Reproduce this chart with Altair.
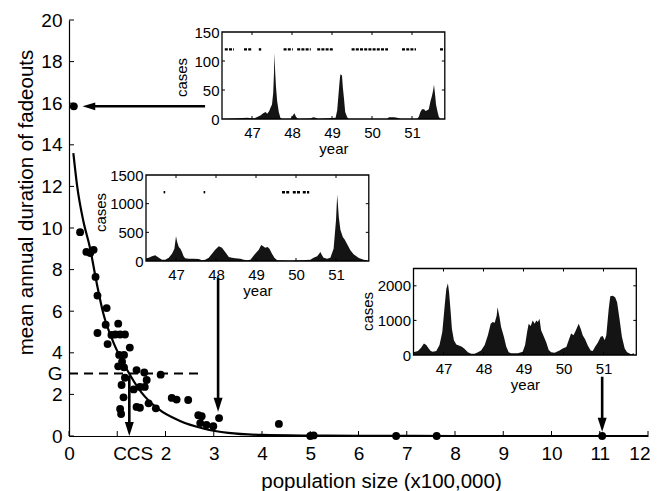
import altair as alt
import pandas as pd

# ---------------- data ----------------
# main scatter: population size (x100,000) vs mean annual duration of fadeouts
pop_size = [0.10, 0.23, 0.36, 0.44, 0.51, 0.55, 0.59, 0.78, 0.59, 0.76,
            0.80, 0.88, 1.02, 0.96, 1.06, 1.16, 1.26, 1.04, 1.14, 1.10,
            1.02, 1.14, 1.16, 1.40, 1.56, 1.90, 1.61, 1.47, 1.57, 1.09,
            1.34, 1.13, 1.65, 1.40, 1.47, 1.06, 1.08, 1.80, 2.13, 2.23,
            2.47, 2.68, 2.75, 2.72, 2.85, 2.99, 3.11, 4.35, 5.00, 5.07,
            6.78, 7.62, 11.05]
fade_dur = [15.85, 9.80, 8.85, 8.80, 8.95, 7.65, 6.75, 6.15, 4.95, 5.35,
            4.42, 4.86, 5.40, 4.88, 4.88, 4.88, 4.25, 3.90, 3.90, 3.57,
            3.35, 3.30, 2.80, 3.17, 3.05, 2.95, 2.69, 2.36, 2.36, 2.45,
            2.24, 1.86, 1.57, 1.40, 1.36, 1.30, 1.06, 1.33, 1.83, 1.75,
            1.73, 1.00, 0.95, 0.62, 0.53, 0.47, 0.86, 0.58, 0.00, 0.03,
            0.00, 0.00, 0.00]

# fitted curve
curve_pop = [0.09, 0.17, 0.30, 0.43, 0.57, 0.71, 0.92, 1.20, 1.50, 1.85,
             2.30, 2.80, 3.30, 4.00, 5.00, 6.00, 8.00, 12.0]
curve_dur = [13.6, 12.0, 10.3, 9.1, 7.4, 5.9, 4.5, 3.2, 2.1, 1.3,
             0.72, 0.35, 0.15, 0.05, 0.02, 0.01, 0.0, 0.0]

G_level = 3.0
G_line_pop = [0.0, 2.78]
CCS_pos = 1.32   # where the "CCS" label sits on the x axis

# arrows: shaft tail -> head base, and tips
shaft_x = [2.82, 3.09, 11.05, 1.25]
shaft_x2 = [0.52, 3.09, 11.05, 1.25]
shaft_y = [15.85, 7.6, 2.85, 2.9]
shaft_y2 = [15.85, 1.77, 0.80, 0.60]
tip_down_x = [3.09, 11.05, 1.25]
tip_down_y = [1.17, 0.20, 0.00]
tip_left_x = [0.28]
tip_left_y = [15.85]

x_tick_vals = list(range(0, 13))
y_tick_vals = list(range(0, 21, 2))
x_label_vals = [0, CCS_pos] + list(range(2, 13))
y_label_vals = [0, 2, 3] + list(range(4, 21, 2))

# inset 1 (top)
i1_year = [46.25, 46.55, 46.88, 47.05, 47.21, 47.28, 47.34, 47.38, 47.43, 47.46,
           47.50, 47.53, 47.55, 47.56, 47.58, 47.60, 47.63, 47.67, 47.71, 47.75,
           47.96, 48.02, 48.06, 48.10, 48.15, 48.46, 48.53, 48.59, 48.65, 49.09,
           49.13, 49.16, 49.19, 49.21, 49.25, 49.27, 49.30, 49.33, 49.38, 49.42,
           50.38, 50.42, 50.55, 50.63, 50.71, 51.13, 51.17, 51.21, 51.25, 51.30,
           51.34, 51.38, 51.42, 51.46, 51.50, 51.53, 51.55, 51.58, 51.60, 51.64,
           51.67, 51.71, 51.78]
i1_cases = [0, 1, 2, 1, 6, 10, 12, 9, 14, 19,
            25, 45, 80, 114, 80, 55, 30, 12, 2, 0,
            0, 6, 10, 4, 0, 1, 3, 2, 0, 2,
            15, 40, 65, 77, 75, 55, 35, 12, 3, 0,
            0, 3, 3, 2, 0, 0, 4, 12, 17, 17,
            14, 15, 17, 30, 40, 50, 59, 40, 25, 12,
            4, 0, 0]
i1_fade_start = [46.32, 46.80, 47.17, 47.79, 48.13, 48.63, 49.49, 50.75, 51.70]
i1_fade_end = [46.55, 46.98, 47.23, 48.02, 48.47, 49.02, 50.40, 51.10, 51.82]
i1_fade_level = 120

# inset 2 (middle)
i2_year = [46.25, 46.32, 46.40, 46.48, 46.57, 46.65, 46.73, 46.82, 46.90, 46.96,
           47.00, 47.03, 47.07, 47.11, 47.15, 47.19, 47.23, 47.32, 47.44, 47.57,
           47.65, 47.73, 47.82, 47.90, 47.98, 48.07, 48.15, 48.23, 48.32, 48.40,
           48.48, 48.61, 48.69, 48.78, 48.86, 48.90, 48.98, 49.07, 49.13, 49.18,
           49.23, 49.29, 49.34, 49.40, 49.46, 49.53, 49.86, 50.11, 50.36, 50.44,
           50.53, 50.61, 50.65, 50.69, 50.78, 50.86, 50.94, 51.00, 51.03, 51.07,
           51.11, 51.17, 51.22, 51.28, 51.36, 51.44, 51.57, 51.69, 51.78]
i2_cases = [50, 58, 81, 99, 58, 23, 23, 58, 128, 215,
            430, 331, 244, 215, 157, 81, 46, 40, 40, 35,
            12, 23, 58, 128, 198, 256, 232, 157, 70, 58,
            46, 40, 23, 12, 23, 58, 128, 198, 279, 256,
            232, 244, 209, 128, 58, 12, 6, 12, 23, 58,
            81, 157, 99, 58, 40, 58, 215, 709, 1162, 767,
            546, 418, 372, 290, 186, 116, 52, 23, 12]
i2_fade_start = [46.69, 47.69, 49.65, 49.92, 50.17]
i2_fade_end = [46.73, 47.73, 49.86, 50.11, 50.33]
i2_fade_level = 1200

# inset 3 (right)
i3_year = [46.25, 46.36, 46.44, 46.51, 46.57, 46.63, 46.68, 46.73, 46.82, 46.90,
           46.97, 47.03, 47.07, 47.11, 47.14, 47.18, 47.21, 47.26, 47.32, 47.40,
           47.46, 47.53, 47.61, 47.69, 47.78, 47.86, 47.94, 48.03, 48.11, 48.18,
           48.23, 48.28, 48.33, 48.35, 48.40, 48.44, 48.51, 48.57, 48.63, 48.69,
           48.86, 48.98, 49.04, 49.09, 49.13, 49.18, 49.23, 49.28, 49.32, 49.36,
           49.40, 49.44, 49.51, 49.57, 49.63, 49.69, 49.78, 49.90, 49.98, 50.07,
           50.13, 50.19, 50.25, 50.31, 50.38, 50.43, 50.48, 50.54, 50.61, 50.68,
           50.73, 50.79, 50.86, 50.93, 50.98, 51.03, 51.07, 51.13, 51.17, 51.23,
           51.29, 51.34, 51.40, 51.46, 51.53, 51.59, 51.69, 51.76]
i3_cases = [76, 114, 209, 333, 286, 190, 114, 95, 114, 286,
            666, 1428, 1904, 2075, 1809, 1238, 762, 428, 305, 267,
            238, 171, 76, 38, 38, 76, 133, 286, 571, 904,
            952, 933, 1142, 1380, 1095, 809, 524, 238, 76, 48,
            48, 95, 286, 666, 904, 838, 1000, 904, 1000, 952,
            1047, 714, 524, 362, 143, 76, 67, 133, 190, 228,
            428, 619, 571, 714, 904, 762, 571, 457, 267, 133,
            114, 238, 362, 524, 552, 428, 571, 1333, 1695, 1714,
            1666, 1523, 1047, 524, 190, 76, 19, 48]
i3_fade_start = []
i3_fade_end = []
i3_fade_level = 0

year_ticks = [47, 48, 49, 50, 51]

# ---------------- layout / style ----------------
W, H = 579, 416
FONT = "Liberation Sans"
YEAR_DOMAIN = [46.25, 51.82]


def XS():
    return alt.Scale(domain=[0, 12], nice=False, zero=False)


def YS():
    return alt.Scale(domain=[0, 20], nice=False, zero=False)


x_axis = alt.Axis(orient="bottom", values=x_label_vals,
                  labelExpr="datum.value == %s ? 'CCS' : '' + datum.value" % CCS_pos,
                  labelAlign={"condition": {"test": "datum.value == 12", "value": "right"},
                              "value": "center"},
                  labelOffset={"condition": {"test": "datum.value == 12", "value": 2},
                               "value": 0},
                  title="population size (x100,000)", ticks=False, tickSize=0,
                  labelPadding=8, labelFontSize=19, labelFlush=False, labelOverlap=False,
                  domainColor="black", domainWidth=1.2, titleFontSize=20.5,
                  titleFontWeight="normal", titleX=312, titleY=51,
                  titleBaseline="alphabetic", titleAlign="center", grid=False)
y_axis = alt.Axis(orient="left", values=y_label_vals,
                  labelExpr="datum.value == 3 ? 'G' : '' + datum.value",
                  title="mean annual duration of fadeouts", ticks=False, tickSize=0,
                  labelPadding=7, labelFontSize=19, labelOverlap=False,
                  domainColor="black", domainWidth=1.2, titleFontSize=20.5,
                  titleFontWeight="normal", titleX=-37, titleY=182, titleAngle=270,
                  titleAlign="center", titleBaseline="alphabetic", grid=False)

pts_df = pd.DataFrame({"pop": pop_size, "dur": fade_dur})
curve_df = pd.DataFrame({"pop": curve_pop, "dur": curve_dur})
g_df = pd.DataFrame({"x": [G_line_pop[0]], "x2": [G_line_pop[1]], "y": [G_level]})
shaft_df = pd.DataFrame({"x": shaft_x, "x2": shaft_x2, "y": shaft_y, "y2": shaft_y2})
down_df = pd.DataFrame({"x": tip_down_x, "y": tip_down_y})
left_df = pd.DataFrame({"x": tip_left_x, "y": tip_left_y})

DOWN_HEAD = "M0,0L-0.32,-1L0.32,-1Z"
LEFT_HEAD = "M0,0L1,-0.3L1,0.3Z"

points = alt.Chart(pts_df).mark_circle(size=62, color="black", opacity=1).encode(
    x=alt.X("pop:Q", scale=XS(), axis=x_axis),
    y=alt.Y("dur:Q", scale=YS(), axis=y_axis))
xt = alt.Chart(pd.DataFrame({"v": x_tick_vals})).mark_rule(color="black", strokeWidth=1).encode(
    x=alt.X("v:Q", scale=XS(), axis=None), y=alt.value(H), y2=alt.value(H - 5))
yt = alt.Chart(pd.DataFrame({"v": y_tick_vals})).mark_rule(color="black", strokeWidth=1).encode(
    y=alt.Y("v:Q", scale=YS(), axis=None), x=alt.value(0), x2=alt.value(5))
curve = alt.Chart(curve_df).mark_line(color="black", strokeWidth=2.2, interpolate="monotone").encode(
    x=alt.X("pop:Q", scale=XS(), axis=None), y=alt.Y("dur:Q", scale=YS(), axis=None))
gline = alt.Chart(g_df).mark_rule(color="black", strokeWidth=2, strokeDash=[9, 6]).encode(
    x=alt.X("x:Q", scale=XS(), axis=None), x2="x2:Q",
    y=alt.Y("y:Q", scale=YS(), axis=None))
shafts = alt.Chart(shaft_df).mark_rule(color="black", strokeWidth=2.6).encode(
    x=alt.X("x:Q", scale=XS(), axis=None), x2="x2:Q",
    y=alt.Y("y:Q", scale=YS(), axis=None), y2="y2:Q")
heads_down = alt.Chart(down_df).mark_point(shape=DOWN_HEAD, filled=True, size=784,
                                           color="black", opacity=1, strokeWidth=0).encode(
    x=alt.X("x:Q", scale=XS(), axis=None), y=alt.Y("y:Q", scale=YS(), axis=None))
heads_left = alt.Chart(left_df).mark_point(shape=LEFT_HEAD, filled=True, size=650,
                                           color="black", opacity=1, strokeWidth=0).encode(
    x=alt.X("x:Q", scale=XS(), axis=None), y=alt.Y("y:Q", scale=YS(), axis=None))

layers = [points, xt, yt, curve, gline, shafts, heads_down, heads_left]


def build_inset(years, cases, ymax, yvals, ctick, fs, fe, flevel, geom, ytitle_x, ytitle_y):
    x0, x1, ytop, ybot = geom

    def xs():
        return alt.Scale(domain=YEAR_DOMAIN, range=[x0, x1], nice=False, zero=False)

    def ys():
        return alt.Scale(domain=[0, ymax], range=[ybot, ytop], nice=False, zero=False)

    box_df = pd.DataFrame({"x": [YEAR_DOMAIN[0]], "x2": [YEAR_DOMAIN[1]],
                           "y": [0], "y2": [ymax]})
    df = pd.DataFrame({"year": years, "cases": cases})
    xax = alt.Axis(orient="bottom", offset=ybot - H, values=year_ticks, format="d",
                   title="year", titleX=(x0 + x1) / 2, titleY=34.5, titleBaseline="alphabetic",
                   titleAlign="center", ticks=False, tickSize=0, domain=False,
                   labelPadding=6.5, labelFontSize=15, titleFontSize=15,
                   titleFontWeight="normal", labelFlush=False, labelOverlap=False, grid=False)
    yax = alt.Axis(orient="left", offset=-x0, values=yvals, format="d", title="cases",
                   titleX=ytitle_x, titleY=ytitle_y, titleAngle=270, titleAlign="center",
                   titleBaseline="alphabetic", ticks=False, tickSize=0, domain=False,
                   labelPadding=3, labelFontSize=15, titleFontSize=15,
                   titleFontWeight="normal", labelOverlap=False, grid=False)
    out = [alt.Chart(df).mark_area(color="#141414", interpolate="linear").encode(
        x=alt.X("year:Q", scale=xs(), axis=xax), y=alt.Y("cases:Q", scale=ys(), axis=yax))]
    if fs:
        fdf = pd.DataFrame({"s": fs, "e": fe, "v": [flevel] * len(fs)})
        out.append(alt.Chart(fdf).mark_rule(color="black", strokeWidth=2.4,
                                            strokeDash=[3, 1.2]).encode(
            x=alt.X("s:Q", scale=xs(), axis=None), x2="e:Q",
            y=alt.Y("v:Q", scale=ys(), axis=None)))
    tdf = pd.DataFrame({"t": year_ticks})
    cdf = pd.DataFrame({"c": ctick})
    out.append(alt.Chart(tdf).mark_rule(color="black", strokeWidth=1).encode(
        x=alt.X("t:Q", scale=xs(), axis=None), y=alt.value(ybot), y2=alt.value(ybot - 3)))
    out.append(alt.Chart(tdf).mark_rule(color="black", strokeWidth=1).encode(
        x=alt.X("t:Q", scale=xs(), axis=None), y=alt.value(ytop), y2=alt.value(ytop + 3)))
    out.append(alt.Chart(cdf).mark_rule(color="black", strokeWidth=1).encode(
        y=alt.Y("c:Q", scale=ys(), axis=None), x=alt.value(x0), x2=alt.value(x0 + 3)))
    out.append(alt.Chart(cdf).mark_rule(color="black", strokeWidth=1).encode(
        y=alt.Y("c:Q", scale=ys(), axis=None), x=alt.value(x1), x2=alt.value(x1 - 3)))
    out.append(alt.Chart(box_df).mark_rect(fillOpacity=0, stroke="black",
                                           strokeWidth=1.3).encode(
        x=alt.X("x:Q", scale=xs(), axis=None), x2="x2:Q",
        y=alt.Y("y:Q", scale=ys(), axis=None), y2="y2:Q"))
    return out


layers += build_inset(i1_year, i1_cases, 150, [0, 50, 100, 150], [50, 100],
                      i1_fade_start, i1_fade_end, i1_fade_level,
                      (153, 375.8, 12, 99), -36, 57)
layers += build_inset(i2_year, i2_cases, 1500, [0, 500, 1000, 1500], [500, 1000],
                      i2_fade_start, i2_fade_end, i2_fade_level,
                      (77, 299.8, 155, 241), -41, 192)
layers += build_inset(i3_year, i3_cases, 2500, [0, 1000, 2000], [1000, 2000],
                      i3_fade_start, i3_fade_end, i3_fade_level,
                      (344.5, 567.3, 248.5, 335), -41.5, 291)

chart = alt.layer(*layers).resolve_scale(
    x="independent", y="independent"
).properties(
    width=W, height=H,
    autosize=alt.AutoSizeParams(type="none"),
    padding={"left": 61, "top": 12, "right": 2, "bottom": 55},
).configure(font=FONT).configure_view(strokeWidth=0).configure_axis(
    grid=False, labelColor="black", titleColor="black", domainColor="black")

chart.save("out.html", embed_options={"renderer": "svg", "actions": False})
